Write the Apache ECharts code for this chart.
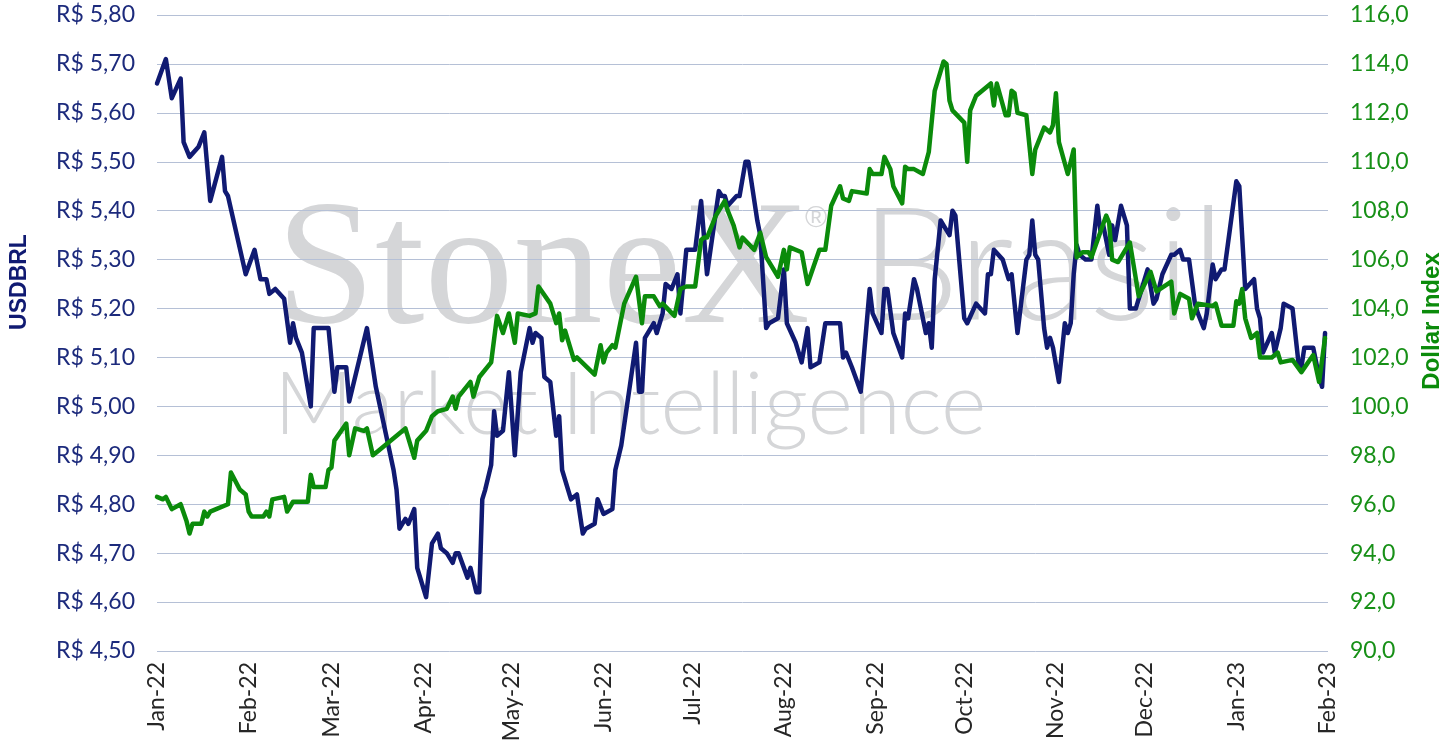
<!DOCTYPE html>
<html>
<head>
<meta charset="utf-8">
<script src="https://cdn.jsdelivr.net/npm/echarts@6.0.0/dist/echarts.min.js"></script>
<style>
html,body{margin:0;padding:0;background:#fff;}
#chart{width:1454px;height:754px;}
</style>
</head>
<body>
<div id="chart"></div>
<script>
// ---- data ----
const monthNames = ['Jan','Feb','Mar','Apr','May','Jun','Jul','Aug','Sep','Oct','Nov','Dec'];
const axisStart = '2022-01-03';
const axisEnd = '2023-02-03';

const brlDates = ['2022-01-03','2022-01-06','2022-01-08','2022-01-11','2022-01-12','2022-01-14','2022-01-17','2022-01-19','2022-01-21','2022-01-25','2022-01-26','2022-01-27','2022-02-02','2022-02-05','2022-02-07','2022-02-09','2022-02-10','2022-02-12','2022-02-15','2022-02-17','2022-02-18','2022-02-19','2022-02-21','2022-02-24','2022-02-25','2022-03-02','2022-03-04','2022-03-05','2022-03-08','2022-03-09','2022-03-10','2022-03-15','2022-03-18','2022-03-24','2022-03-25','2022-03-26','2022-03-28','2022-03-29','2022-03-31','2022-04-01','2022-04-04','2022-04-06','2022-04-08','2022-04-09','2022-04-11','2022-04-13','2022-04-14','2022-04-15','2022-04-18','2022-04-19','2022-04-21','2022-04-22','2022-04-23','2022-04-24','2022-04-26','2022-04-27','2022-04-28','2022-04-30','2022-05-02','2022-05-04','2022-05-06','2022-05-09','2022-05-10','2022-05-11','2022-05-13','2022-05-14','2022-05-16','2022-05-18','2022-05-19','2022-05-20','2022-05-23','2022-05-25','2022-05-27','2022-05-28','2022-05-31','2022-06-01','2022-06-03','2022-06-06','2022-06-07','2022-06-09','2022-06-14','2022-06-15','2022-06-16','2022-06-17','2022-06-20','2022-06-21','2022-06-23','2022-06-24','2022-06-26','2022-06-28','2022-06-29','2022-07-01','2022-07-04','2022-07-06','2022-07-08','2022-07-12','2022-07-13','2022-07-14','2022-07-15','2022-07-18','2022-07-19','2022-07-21','2022-07-22','2022-07-25','2022-07-26','2022-07-28','2022-07-29','2022-08-01','2022-08-03','2022-08-04','2022-08-07','2022-08-08','2022-08-09','2022-08-11','2022-08-12','2022-08-15','2022-08-17','2022-08-19','2022-08-22','2022-08-23','2022-08-24','2022-08-26','2022-08-29','2022-09-01','2022-09-02','2022-09-05','2022-09-06','2022-09-07','2022-09-09','2022-09-12','2022-09-13','2022-09-14','2022-09-16','2022-09-17','2022-09-20','2022-09-21','2022-09-22','2022-09-23','2022-09-25','2022-09-26','2022-09-28','2022-09-29','2022-09-30','2022-10-03','2022-10-04','2022-10-07','2022-10-10','2022-10-11','2022-10-12','2022-10-13','2022-10-16','2022-10-18','2022-10-19','2022-10-21','2022-10-24','2022-10-25','2022-10-26','2022-10-27','2022-10-28','2022-10-30','2022-10-31','2022-11-01','2022-11-02','2022-11-04','2022-11-06','2022-11-07','2022-11-08','2022-11-09','2022-11-10','2022-11-11','2022-11-13','2022-11-15','2022-11-17','2022-11-18','2022-11-19','2022-11-21','2022-11-22','2022-11-23','2022-11-25','2022-11-27','2022-11-28','2022-11-30','2022-12-01','2022-12-04','2022-12-06','2022-12-07','2022-12-09','2022-12-12','2022-12-13','2022-12-15','2022-12-16','2022-12-18','2022-12-20','2022-12-21','2022-12-23','2022-12-24','2022-12-26','2022-12-27','2022-12-29','2022-12-30','2023-01-01','2023-01-03','2023-01-04','2023-01-06','2023-01-09','2023-01-10','2023-01-11','2023-01-12','2023-01-15','2023-01-16','2023-01-18','2023-01-19','2023-01-22','2023-01-24','2023-01-25','2023-01-26','2023-01-29','2023-01-31','2023-02-01','2023-02-02'];
const brlValues = [5.66,5.71,5.63,5.67,5.54,5.51,5.53,5.56,5.42,5.51,5.44,5.43,5.27,5.32,5.26,5.26,5.23,5.24,5.22,5.13,5.17,5.14,5.11,5.00,5.16,5.16,5.03,5.08,5.08,5.01,5.035,5.16,5.04,4.87,4.83,4.75,4.77,4.76,4.79,4.67,4.61,4.72,4.74,4.71,4.70,4.68,4.70,4.70,4.65,4.67,4.62,4.62,4.81,4.83,4.88,4.99,4.94,4.95,5.07,4.90,5.07,5.16,5.13,5.15,5.14,5.06,5.05,4.94,4.98,4.87,4.81,4.82,4.74,4.75,4.76,4.81,4.78,4.79,4.87,4.92,5.13,5.03,5.03,5.14,5.17,5.15,5.19,5.25,5.24,5.27,5.19,5.32,5.32,5.42,5.27,5.44,5.43,5.43,5.41,5.43,5.43,5.50,5.50,5.38,5.35,5.16,5.17,5.18,5.28,5.17,5.13,5.11,5.09,5.16,5.08,5.09,5.17,5.17,5.17,5.10,5.11,5.08,5.03,5.24,5.19,5.15,5.24,5.24,5.15,5.10,5.19,5.18,5.26,5.24,5.15,5.17,5.12,5.26,5.38,5.37,5.35,5.40,5.39,5.18,5.17,5.21,5.19,5.27,5.27,5.32,5.30,5.26,5.27,5.15,5.30,5.31,5.38,5.31,5.30,5.16,5.12,5.14,5.12,5.05,5.17,5.15,5.17,5.27,5.33,5.31,5.30,5.30,5.41,5.36,5.37,5.31,5.37,5.34,5.41,5.37,5.20,5.20,5.22,5.28,5.21,5.22,5.27,5.31,5.31,5.32,5.30,5.30,5.21,5.19,5.16,5.19,5.29,5.26,5.28,5.28,5.37,5.46,5.45,5.24,5.26,5.20,5.18,5.11,5.15,5.11,5.16,5.21,5.20,5.09,5.08,5.12,5.12,5.06,5.04,5.15];

const dxyDates = ['2022-01-03','2022-01-05','2022-01-06','2022-01-08','2022-01-11','2022-01-13','2022-01-14','2022-01-15','2022-01-18','2022-01-19','2022-01-20','2022-01-21','2022-01-23','2022-01-27','2022-01-28','2022-01-31','2022-02-02','2022-02-03','2022-02-04','2022-02-06','2022-02-08','2022-02-09','2022-02-10','2022-02-11','2022-02-15','2022-02-16','2022-02-18','2022-02-23','2022-02-24','2022-02-25','2022-03-01','2022-03-02','2022-03-03','2022-03-04','2022-03-08','2022-03-09','2022-03-11','2022-03-14','2022-03-15','2022-03-17','2022-03-19','2022-03-24','2022-03-28','2022-03-31','2022-04-01','2022-04-04','2022-04-06','2022-04-08','2022-04-11','2022-04-13','2022-04-14','2022-04-15','2022-04-19','2022-04-20','2022-04-22','2022-04-26','2022-04-28','2022-04-30','2022-05-02','2022-05-04','2022-05-05','2022-05-09','2022-05-11','2022-05-12','2022-05-16','2022-05-18','2022-05-19','2022-05-20','2022-05-21','2022-05-24','2022-05-25','2022-05-31','2022-06-02','2022-06-03','2022-06-04','2022-06-06','2022-06-07','2022-06-10','2022-06-14','2022-06-16','2022-06-17','2022-06-20','2022-06-22','2022-06-23','2022-06-27','2022-06-29','2022-07-01','2022-07-04','2022-07-06','2022-07-07','2022-07-08','2022-07-11','2022-07-14','2022-07-15','2022-07-17','2022-07-19','2022-07-20','2022-07-24','2022-07-26','2022-07-28','2022-08-01','2022-08-03','2022-08-04','2022-08-05','2022-08-09','2022-08-11','2022-08-15','2022-08-17','2022-08-19','2022-08-22','2022-08-23','2022-08-25','2022-08-26','2022-08-31','2022-09-01','2022-09-02','2022-09-05','2022-09-06','2022-09-08','2022-09-09','2022-09-12','2022-09-13','2022-09-14','2022-09-16','2022-09-19','2022-09-21','2022-09-23','2022-09-26','2022-09-27','2022-09-28','2022-09-29','2022-10-03','2022-10-04','2022-10-05','2022-10-07','2022-10-12','2022-10-13','2022-10-14','2022-10-17','2022-10-18','2022-10-19','2022-10-20','2022-10-21','2022-10-24','2022-10-26','2022-10-27','2022-10-30','2022-11-01','2022-11-02','2022-11-03','2022-11-04','2022-11-07','2022-11-09','2022-11-10','2022-11-12','2022-11-14','2022-11-15','2022-11-20','2022-11-21','2022-11-22','2022-11-24','2022-11-28','2022-12-01','2022-12-05','2022-12-07','2022-12-12','2022-12-13','2022-12-15','2022-12-18','2022-12-19','2022-12-21','2022-12-26','2022-12-27','2022-12-29','2023-01-02','2023-01-03','2023-01-04','2023-01-05','2023-01-06','2023-01-08','2023-01-10','2023-01-11','2023-01-15','2023-01-17','2023-01-18','2023-01-22','2023-01-25','2023-01-29','2023-01-31','2023-02-02'];
const dxyValues = [96.3,96.2,96.3,95.8,96.0,95.3,94.8,95.2,95.2,95.7,95.5,95.7,95.8,96.0,97.3,96.6,96.4,95.7,95.5,95.5,95.5,95.7,95.5,96.2,96.3,95.7,96.1,96.1,97.2,96.7,96.7,97.4,97.5,98.6,99.3,98.0,99.1,99.0,99.1,98.0,98.2,98.7,99.1,97.9,98.6,99.0,99.6,99.8,99.9,100.4,99.9,100.4,101.0,100.4,101.2,101.8,103.7,103.0,103.8,102.6,103.8,103.7,103.8,104.9,104.2,103.4,103.8,102.7,103.1,101.9,102.0,101.3,102.5,101.8,102.2,102.5,102.4,104.2,105.3,103.4,104.5,104.5,104.1,104.2,103.7,104.8,104.9,104.9,106.8,106.9,106.9,107.8,108.4,108.0,107.4,106.5,106.9,106.4,107.1,106.1,105.3,106.4,105.6,106.5,106.3,105.0,106.4,106.4,108.2,109.0,108.5,108.4,108.8,108.7,109.7,109.5,109.5,110.2,109.7,109.0,108.3,109.8,109.7,109.7,109.5,110.4,112.9,114.1,114.0,112.5,112.1,111.6,110.0,112.1,112.7,113.2,112.3,113.2,111.9,111.9,112.9,112.8,112.0,111.9,109.5,110.5,111.4,111.2,111.5,112.8,110.8,109.5,110.5,106.1,106.3,106.3,106.1,107.8,107.5,106.0,105.9,106.7,104.5,105.5,104.7,105.1,103.8,104.6,104.4,103.6,104.2,104.1,104.2,103.3,103.3,104.3,104.2,104.8,103.6,102.8,103.0,102.0,102.0,102.2,101.8,101.9,101.4,102.1,101.0,102.8];

// left axis (USDBRL) and right axis (Dollar Index) ranges
const brlMin = 4.5, brlMax = 5.8, brlStep = 0.1;
const dxyMin = 90, dxyMax = 116, dxyStep = 2;

// ---- build category axis: one entry per calendar day ----
const categories = [];
(function(){
  let t = Date.parse(axisStart + 'T00:00:00Z');
  const end = Date.parse(axisEnd + 'T00:00:00Z');
  while (t <= end) {
    categories.push(new Date(t).toISOString().slice(0,10));
    t += 86400000;
  }
})();
const catIndex = {};
categories.forEach((c,i)=>{catIndex[c]=i;});
const brlData = brlDates.map((d,i)=>[catIndex[d], brlValues[i]]);
const dxyData = dxyDates.map((d,i)=>[catIndex[d], dxyValues[i]]);

const NAVY = '#101a72';
const GREEN = '#0b8b0b';
const WM = '#d5d6d8';
const FONT = 'Lato, "Noto Sans", sans-serif';

const chart = echarts.init(document.getElementById('chart'), null, {renderer:'canvas'});
chart.setOption({
  animation: false,
  backgroundColor: '#ffffff',
  grid: {left: 157, right: 126, top: 15, bottom: 103, containLabel: false},
  graphic: [
    {type:'text', z:-10, x:276, y:186, style:{text:'StoneX', font:'178px "Liberation Serif", serif', fill:WM, verticalAlign:'top'}},
    {type:'text', z:-10, x:805, y:204, style:{text:'®', font:'30px "Liberation Sans", sans-serif', fill:WM, verticalAlign:'top'}},
    {type:'text', z:-10, x:860, y:190, style:{text:'Brasil', font:'300 158px Lato, sans-serif', fill:WM, verticalAlign:'top'}},
    {type:'text', z:-10, x:274, y:362, style:{text:'Market Intelligence', font:'300 87px Lato, sans-serif', fill:WM, verticalAlign:'top'}},
    {type:'text', x:20, y:282, rotation:Math.PI/2, style:{text:'USDBRL', font:'bold 23px "Liberation Sans", Arial, sans-serif', fill:NAVY, align:'center', verticalAlign:'middle'}},
    {type:'text', x:1432, y:321, rotation:Math.PI/2, style:{text:'Dollar Index', font:'bold 24px "Liberation Sans", Arial, sans-serif', fill:GREEN, align:'center', verticalAlign:'middle'}}
  ],
  xAxis: {
    type: 'category',
    data: categories,
    boundaryGap: false,
    axisLine: {show:false},
    axisTick: {show:false},
    splitLine: {show:false},
    axisLabel: {
      interval: function(index, value){ return value.slice(8,10) === '03'; },
      rotate: 90,
      margin: 11,
      color: '#262626',
      fontFamily: FONT,
      fontSize: 23,
      formatter: function(value){
        const m = parseInt(value.slice(5,7),10);
        return monthNames[m-1] + '-' + value.slice(2,4);
      }
    }
  },
  yAxis: [
    {
      type: 'value',
      min: brlMin, max: brlMax, interval: brlStep,
      position: 'left',
      axisLine: {show:false},
      axisTick: {show:false},
      splitLine: {show:true, lineStyle:{color:'#b5c0d6', width:1}},
      axisLabel: {
        margin: 22,
        color: '#1c2a7c',
        fontFamily: FONT,
        fontSize: 23,
        formatter: function(v){ return 'R$ ' + v.toFixed(2).replace('.', ','); }
      }
    },
    {
      type: 'value',
      min: dxyMin, max: dxyMax, interval: dxyStep,
      position: 'right',
      axisLine: {show:false},
      axisTick: {show:false},
      splitLine: {show:false},
      axisLabel: {
        margin: 22,
        color: '#179017',
        fontFamily: FONT,
        fontSize: 23,
        formatter: function(v){ return v.toFixed(1).replace('.', ','); }
      }
    }
  ],
  series: [
    {
      name: 'USDBRL', type: 'line', yAxisIndex: 0,
      data: brlData, showSymbol: false, symbol: 'none',
      lineStyle: {color: NAVY, width: 4.5, join: 'round', cap: 'round'},
      itemStyle: {color: NAVY},
      z: 3
    },
    {
      name: 'Dollar Index', type: 'line', yAxisIndex: 1,
      data: dxyData, showSymbol: false, symbol: 'none',
      lineStyle: {color: GREEN, width: 4.5, join: 'round', cap: 'round'},
      itemStyle: {color: GREEN},
      z: 4
    }
  ]
});
</script>
</body>
</html>
